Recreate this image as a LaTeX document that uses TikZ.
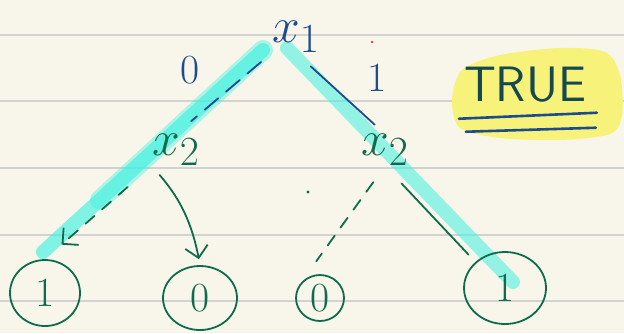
\documentclass[tikz,border=0pt]{standalone}
\usepackage{tikz}
\usetikzlibrary{positioning, arrows.meta, shapes.geometric}
\definecolor{paper}{HTML}{F8F6EA}
\definecolor{ruleline}{HTML}{D2D2D0}
\definecolor{inkblue}{HTML}{1C4C8E}
\definecolor{inkgreen}{HTML}{0F6B4E}
\definecolor{inkteal}{HTML}{16484F}
\definecolor{hlcyan}{HTML}{40F2E2}
\definecolor{hlyellow}{HTML}{F6F27A}

\begin{document}
\begin{tikzpicture}[x=0.5pt, y=-0.5pt, font=\Large,
    bluepen/.style={inkblue, line width=0.9pt, line cap=round},
    greenpen/.style={inkgreen, line width=0.9pt, line cap=round},
    hilite/.style={hlcyan, line width=7pt, line cap=round, opacity=0.65},
    var/.style={inner sep=0pt, minimum width=20pt, minimum height=14pt, font=\Huge},
    leaf/.style={ellipse, draw=inkgreen, line width=0.9pt, inner sep=0pt,
                 text=inkgreen, font=\huge}]
  % foglio a righe, 1 unita' = 1 px del riferimento
  \useasboundingbox (0,0) rectangle (624,333);
  \fill[paper] (0,0) rectangle (624,333);
  \foreach \y in {35,101,168,235,301}
    \draw[ruleline, line width=1.2pt] (0,\y) -- (624,\y);
  % evidenziatori
  \fill[hlyellow] plot[smooth cycle] coordinates {(452,100) (462,70) (500,55) (560,48)
      (605,52) (620,75) (622,115) (610,134) (560,140) (500,138) (460,128)};
  \coordinate (hlL0) at (263,50);
  \coordinate (hlL1) at (43,252);
  \coordinate (hlR0) at (287,48);
  \coordinate (hlR1) at (513,282);
  \draw[hilite] (hlL0) -- (hlL1);
  \draw[hilite, line width=10pt, opacity=0.4] (hlL0) -- (100,200);
  \draw[hilite, opacity=0.55] (hlR0) -- (hlR1);
  % nodi
  \node[var, inkblue] (x1) at (296,37) {$x_1$};
  \node[inkblue, font=\huge] (lab0) at (190,70) {0};
  \node[inkblue, font=\huge] (lab1) at (377,78) {1};
  \node[var, inkgreen] (x2a) at (176,150) {$x_2$};
  \node[var, inkgreen] (x2b) at (385,150) {$x_2$};
  \node[leaf, minimum width=35pt, minimum height=33pt] (leafA) at (45,293) {1};
  \node[leaf, minimum width=37pt, minimum height=32pt] (leafB) at (200,298) {0};
  \node[leaf, minimum width=24pt, minimum height=23pt] (leafC) at (320,298) {0};
  \node[leaf, minimum width=41pt, minimum height=36pt] (leafD) at (505,288) {1};
  \node[inkteal, font=\Huge\sffamily] (true) at (525,85) {TRUE};
  % archi
  \draw[bluepen, dash pattern=on 9pt off 5pt, shorten <=7pt, shorten >=10pt]
       (x1.south west) -- (x2a.north);
  \draw[bluepen, shorten <=10pt, shorten >=7pt] (x1.south) -- (x2b.north);
  \draw[greenpen, dash pattern=on 6pt off 5pt, -{Straight Barb[length=2mm]},
       shorten <=16pt, shorten >=11pt] (x2a.south west) -- (leafA.north);
  \draw[greenpen, -{Straight Barb[length=2mm]}, shorten <=6pt, shorten >=3pt]
       (x2a.south west) to[bend left=15] (leafB.north);
  \draw[greenpen, dash pattern=on 6pt off 5pt, shorten <=10pt, shorten >=15pt]
       (x2b.south) -- (leafC.150);
  \draw[greenpen, shorten <=12pt, shorten >=5pt] (x2b.south) -- (leafD.north west);
  \draw[bluepen, line width=1.3pt] (true.south west) ++(2,9) -- ++(138,-6);
  \draw[bluepen, line width=1.3pt] (true.south west) ++(9,22) -- ++(130,-4);
  \fill[inkgreen] (308,192) circle (0.8pt);
  \fill[red] (372,42) circle (0.6pt);
\end{tikzpicture}
\end{document}
